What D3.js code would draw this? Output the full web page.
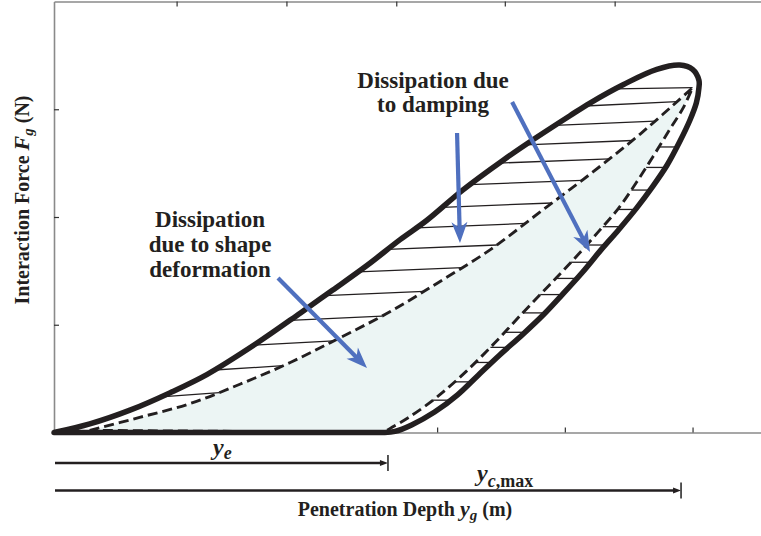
<!DOCTYPE html>
<html>
<head>
<meta charset="utf-8">
<script src="https://cdn.jsdelivr.net/npm/d3@7"></script>
<style>
  html, body { margin: 0; padding: 0; background: #fff; }
  svg { display: block; }
</style>
</head>
<body>
<svg id="chart" width="761" height="536"></svg>
<script>
// Outer force–depth loop: loading branch (up to the tip) and unloading branch
const loadingDepth   = [0, 0.28, 0.60, 0.91, 1.20, 1.59, 1.93, 2.18, 2.45, 2.71, 2.92, 3.20, 3.52, 3.78, 4.04, 4.20, 4.46, 4.72, 4.90, 5.00, 5.05];
const loadingForce   = [0, 0.08, 0.21, 0.37, 0.54, 0.83, 1.11, 1.32, 1.55, 1.79, 1.97, 2.25, 2.53, 2.74, 2.94, 3.06, 3.23, 3.37, 3.41, 3.37, 3.27];
const unloadingDepth = [5.05, 5.03, 4.98, 4.90, 4.80, 4.68, 4.56, 4.42, 4.28, 4.14, 3.98, 3.83, 3.67, 3.49, 3.32, 3.16, 2.98, 2.80, 2.67, 2.59];
const unloadingForce = [3.20, 3.06, 2.90, 2.70, 2.48, 2.27, 2.08, 1.88, 1.69, 1.49, 1.28, 1.09, 0.91, 0.72, 0.53, 0.35, 0.19, 0.07, 0.01, 0];

// Inner (undamped) loop: upper dashed branch and lower dashed branch
const innerUpDepth   = [0.28, 0.67, 1.07, 1.46, 1.85, 2.24, 2.63, 3.02, 3.42, 3.81, 4.20, 4.59, 5.00];
const innerUpForce   = [0.02, 0.14, 0.27, 0.45, 0.65, 0.88, 1.12, 1.40, 1.70, 2.05, 2.40, 2.77, 3.20];
const innerDownDepth = [5.00, 4.93, 4.82, 4.69, 4.56, 4.42, 4.26, 4.08, 3.88, 3.67, 3.45, 3.23, 3.00, 2.79, 2.65, 2.58];
const innerDownForce = [3.20, 3.02, 2.81, 2.56, 2.32, 2.08, 1.86, 1.62, 1.37, 1.11, 0.83, 0.57, 0.33, 0.15, 0.05, 0];

// Force levels of the hatch strokes (damping dissipation)
const upperHatchForce = [3.19, 3.03, 2.85, 2.67, 2.50, 2.30, 2.09, 1.90, 1.70, 1.49, 1.27, 1.04, 0.81, 0.58, 0.33];
const lowerHatchForce = [2.65, 2.46, 2.25, 2.07, 1.91, 1.74, 1.58, 1.43, 1.28, 1.11, 0.93, 0.79, 0.65, 0.47, 0.30];

// Axis ticks (unlabelled)
const bottomTicks = [1, 2, 3, 4, 5];
const topTicks    = [0.96, 1.82, 2.68, 3.53, 4.39];
const leftTicks   = [1, 2, 3];

// Characteristic depths
const yElastic = 2.615;
const yCMax    = 4.91;

const INK  = "#231f20";
const BLUE = "#4f70bf";
const FILL = "#ecf5f4";
const SERIF = "'Liberation Serif', 'Times New Roman', serif";

const svg = d3.select("#chart");
const x = d3.scaleLinear().domain([0, 5.536]).range([54, 761]);
const y = d3.scaleLinear().domain([0, 4]).range([432.5, 1.5]);

const zip = (a, b) => a.map((v, i) => [v, b[i]]);
const line = d3.line().x(d => x(d[0])).y(d => y(d[1])).curve(d3.curveCatmullRom.alpha(0.5));

const outerPts = zip(loadingDepth, loadingForce).concat(zip(unloadingDepth, unloadingForce));
const upPts = zip(innerUpDepth, innerUpForce);
const downPts = zip(innerDownDepth, innerDownForce);

const outerD = line(outerPts);
const innerD = line(upPts) + line(downPts).replace(/^M/, "L") + "Z";

// ---- axes ----
const axisG = svg.append("g");
axisG.append("g").attr("transform", `translate(0,${y(0)})`)
  .call(d3.axisBottom(x).tickValues(bottomTicks).tickSizeInner(-5).tickSizeOuter(0).tickFormat(""));
axisG.append("g").attr("transform", `translate(0,${y(4)})`)
  .call(d3.axisTop(x).tickValues(topTicks).tickSizeInner(-5).tickSizeOuter(0).tickFormat(""));
axisG.append("g").attr("transform", `translate(${x(0)},0)`)
  .call(d3.axisLeft(y).tickValues(leftTicks).tickSizeInner(-5).tickSizeOuter(0).tickFormat(""));
axisG.selectAll(".domain").attr("stroke", "#8a8a8a").attr("stroke-width", 1.6);
axisG.selectAll(".tick line").attr("stroke", "#333").attr("stroke-width", 1.2);

// ---- shaded inner region ----
svg.append("path").attr("d", innerD).attr("fill", FILL).attr("stroke", "none");

// helper paths used to locate the hatch end points
const helper = svg.append("g").attr("fill", "none").attr("stroke", "none");
function samples(d) {
  const node = helper.append("path").attr("d", d).node();
  const L = node.getTotalLength();
  return d3.range(801).map(i => node.getPointAtLength(L * i / 800));
}
function crossings(pts, yy) {
  const out = [];
  for (let i = 1; i < pts.length; i++) {
    const a = pts[i - 1], b = pts[i];
    if ((a.y - yy) * (b.y - yy) <= 0 && a.y !== b.y) {
      out.push(a.x + (b.x - a.x) * (yy - a.y) / (b.y - a.y));
    }
  }
  return out;
}
const outerS = samples(outerD);
const upS = samples(line(upPts));
const downS = samples(line(downPts));
const tip = upPts[upPts.length - 1];

// ---- hatch strokes ----
const hatchG = svg.append("g").attr("stroke", INK).attr("stroke-width", 1.3).attr("fill", "none");
const tilt = 0.04;
upperHatchForce.forEach(f => {
  const y0 = y(f);
  const xl = crossings(outerS, y0)[0];
  const y1 = y(f + tilt);
  const c = crossings(upS, y1);
  const xr = c.length ? c[0] : x(tip[0]);
  const yr = c.length ? y1 : y(tip[1]);
  hatchG.append("line").attr("x1", xl).attr("y1", y0).attr("x2", xr).attr("y2", yr);
});
lowerHatchForce.forEach(f => {
  const y0 = y(f);
  const xl = crossings(downS, y0)[0];
  const co = crossings(outerS, y0);
  const xr = co[co.length - 1];
  hatchG.append("line").attr("x1", xl).attr("y1", y0).attr("x2", xr).attr("y2", y0);
});

// ---- inner dashed loop ----
svg.append("path").attr("d", innerD).attr("fill", "none")
  .attr("stroke", INK).attr("stroke-width", 2.9).attr("stroke-dasharray", "10,5");

// ---- outer loop ----
svg.append("path").attr("d", outerD + "Z").attr("fill", "none")
  .attr("stroke", INK).attr("stroke-width", 5.5).attr("stroke-linejoin", "round").attr("stroke-linecap", "round");

// ---- annotation arrows ----
function arrow(x1, y1, x2, y2) {
  const dx = x2 - x1, dy = y2 - y1, len = Math.hypot(dx, dy);
  const ux = dx / len, uy = dy / len, nx = -uy, ny = ux;
  const L = 21, W = 8, notch = 15;
  const nxp = x2 - ux * notch, nyp = y2 - uy * notch;
  svg.append("line").attr("x1", x1).attr("y1", y1).attr("x2", nxp + ux).attr("y2", nyp + uy)
    .attr("stroke", BLUE).attr("stroke-width", 4.2);
  const bx = x2 - ux * L, by = y2 - uy * L;
  svg.append("path")
    .attr("d", `M${x2},${y2}L${bx + nx * W},${by + ny * W}L${nxp},${nyp}L${bx - nx * W},${by - ny * W}Z`)
    .attr("fill", BLUE);
}
arrow(x(1.754), y(1.434), x(2.451), y(0.599));
arrow(x(3.156), y(2.780), x(3.179), y(1.759));
arrow(x(3.587), y(3.067), x(4.197), y(1.675));

// ---- annotation text ----
function block(lines, cx, baseline, step) {
  const t = svg.append("text").attr("text-anchor", "middle")
    .attr("font-family", SERIF).attr("font-weight", "bold").attr("font-size", 23).attr("fill", INK);
  lines.forEach((s, i) => t.append("tspan").attr("x", cx).attr("y", baseline + i * step).text(s));
}
block(["Dissipation due", "to damping"], 433, 88, 24);
block(["Dissipation", "due to shape", "deformation"], 210, 227, 25);

// ---- dimension lines ----
function dimension(val, yy) {
  const xe = x(val);
  svg.append("line").attr("x1", x(0) + 1).attr("y1", yy).attr("x2", xe - 5).attr("y2", yy)
    .attr("stroke", INK).attr("stroke-width", 2.4);
  svg.append("path").attr("d", `M${xe},${yy}L${xe - 8},${yy - 3}L${xe - 8},${yy + 3}Z`).attr("fill", INK);
  svg.append("line").attr("x1", xe).attr("y1", yy - 8).attr("x2", xe).attr("y2", yy + 8)
    .attr("stroke", "#444").attr("stroke-width", 1.8);
}
dimension(yElastic, 463);
dimension(yCMax, 490.5);

const ye = svg.append("text").attr("x", 213).attr("y", 455)
  .attr("font-family", SERIF).attr("font-weight", "bold").attr("fill", INK);
ye.append("tspan").attr("font-style", "italic").attr("font-size", 24).text("y");
ye.append("tspan").attr("font-style", "italic").attr("font-size", 18).attr("dy", 4).text("e");

const yc = svg.append("text").attr("x", 477).attr("y", 481)
  .attr("font-family", SERIF).attr("font-weight", "bold").attr("fill", INK);
yc.append("tspan").attr("font-style", "italic").attr("font-size", 24).text("y");
yc.append("tspan").attr("font-style", "italic").attr("font-size", 18).attr("dy", 6).text("c");
yc.append("tspan").attr("font-size", 18).text(",max");

// ---- axis titles ----
const xt = svg.append("text").attr("x", 405).attr("y", 516).attr("text-anchor", "middle")
  .attr("font-family", SERIF).attr("font-weight", "bold").attr("font-size", 20).attr("fill", INK);
xt.append("tspan").text("Penetration Depth ");
xt.append("tspan").attr("font-style", "italic").attr("font-size", 22).text("y");
xt.append("tspan").attr("font-style", "italic").attr("font-size", 15).attr("dy", 4).text("g");
xt.append("tspan").attr("dy", -4).text(" (m)");

const yt = svg.append("text").attr("transform", "translate(29,200) rotate(-90)").attr("text-anchor", "middle")
  .attr("font-family", SERIF).attr("font-weight", "bold").attr("font-size", 20).attr("fill", INK);
yt.append("tspan").text("Interaction Force ");
yt.append("tspan").attr("font-style", "italic").attr("font-size", 22).text("F");
yt.append("tspan").attr("font-style", "italic").attr("font-size", 15).attr("dy", 4).text("g");
yt.append("tspan").attr("dy", -4).text(" (N)");
</script>
</body>
</html>
